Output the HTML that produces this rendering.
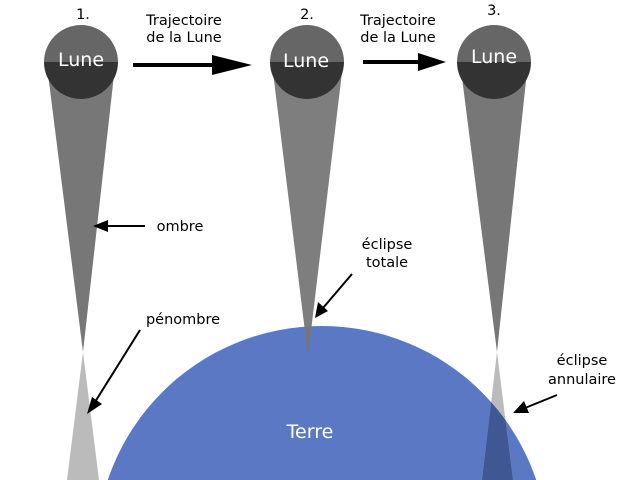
<!DOCTYPE html><html><head><style>html,body{margin:0;background:#fff;overflow:hidden;width:640px;height:480px}svg{display:block}</style></head><body>
<svg width="640" height="480" viewBox="0 0 640 480" xmlns="http://www.w3.org/2000/svg" font-family="DejaVu Sans, Liberation Sans, sans-serif">
<rect width="640" height="480" fill="#fff"/>
<circle cx="322" cy="552" r="226" fill="#5b78c4"/>
<polygon points="47,66 115,66 83,352" fill="#777"/>
<polygon points="83,352 67,480 99,480" fill="#bbb"/>
<polygon points="272,64 343,64 308,356" fill="#777" opacity="0.95"/>
<polygon points="460,62 528,62 497,352" fill="#777"/>
<polygon points="497,352 482,480 513,480" fill="#bbb"/>
<clipPath id="e"><circle cx="322" cy="552" r="226"/></clipPath>
<polygon points="497,352 482,480 513,480" fill="#3f5793" clip-path="url(#e)"/>
<g>
<path d="M44,62 A37,37 0 0 1 118,62 Z" fill="#666"/><path d="M44,62 A37,37 0 0 0 118,62 Z" fill="#333"/>
<path d="M270,62 A37,37 0 0 1 344,62 Z" fill="#666"/><path d="M270,62 A37,37 0 0 0 344,62 Z" fill="#333"/>
<path d="M457,62 A37,37 0 0 1 531,62 Z" fill="#666"/><path d="M457,62 A37,37 0 0 0 531,62 Z" fill="#333"/>
</g>
<g fill="#fff" font-size="19" text-anchor="middle"><text x="81" y="66">Lune</text><text x="306" y="67">Lune</text><text x="494" y="63">Lune</text></g>
<g fill="#000" font-size="14.5" text-anchor="middle">
<text x="83" y="19">1.</text><text x="307" y="19">2.</text><text x="494" y="15">3.</text>
<text x="184" y="25">Trajectoire</text><text x="184" y="42">de la Lune</text>
<text x="398" y="25">Trajectoire</text><text x="398" y="42">de la Lune</text>
<text x="180" y="231">ombre</text><text x="183" y="324">pénombre</text>
<text x="387" y="249">éclipse</text><text x="387" y="267">totale</text>
<text x="582" y="365">éclipse</text><text x="582" y="384">annulaire</text>
</g>
<text x="310" y="438" fill="#fff" font-size="19" text-anchor="middle">Terre</text>
<g stroke="#000" stroke-width="4"><line x1="133" y1="65" x2="215" y2="65"/><line x1="363" y1="62" x2="420" y2="62"/></g>
<polygon points="212,55 252,65 212,75" fill="#000"/><polygon points="418,53 446,62 418,71" fill="#000"/>
<g stroke="#000" stroke-width="2"><line x1="145" y1="226" x2="106" y2="226"/><line x1="140" y1="330" x2="95" y2="402"/><line x1="352" y1="274" x2="323" y2="308"/><line x1="557" y1="395" x2="525" y2="408"/></g>
<polygon points="93,226 108,220 108,232" fill="#000"/>
<polygon points="87,414 92,397 102,404" fill="#000"/>
<polygon points="315,318 318,302 328,311" fill="#000"/>
<polygon points="513,413 524,401 529,413" fill="#000"/>
</svg></body></html>
